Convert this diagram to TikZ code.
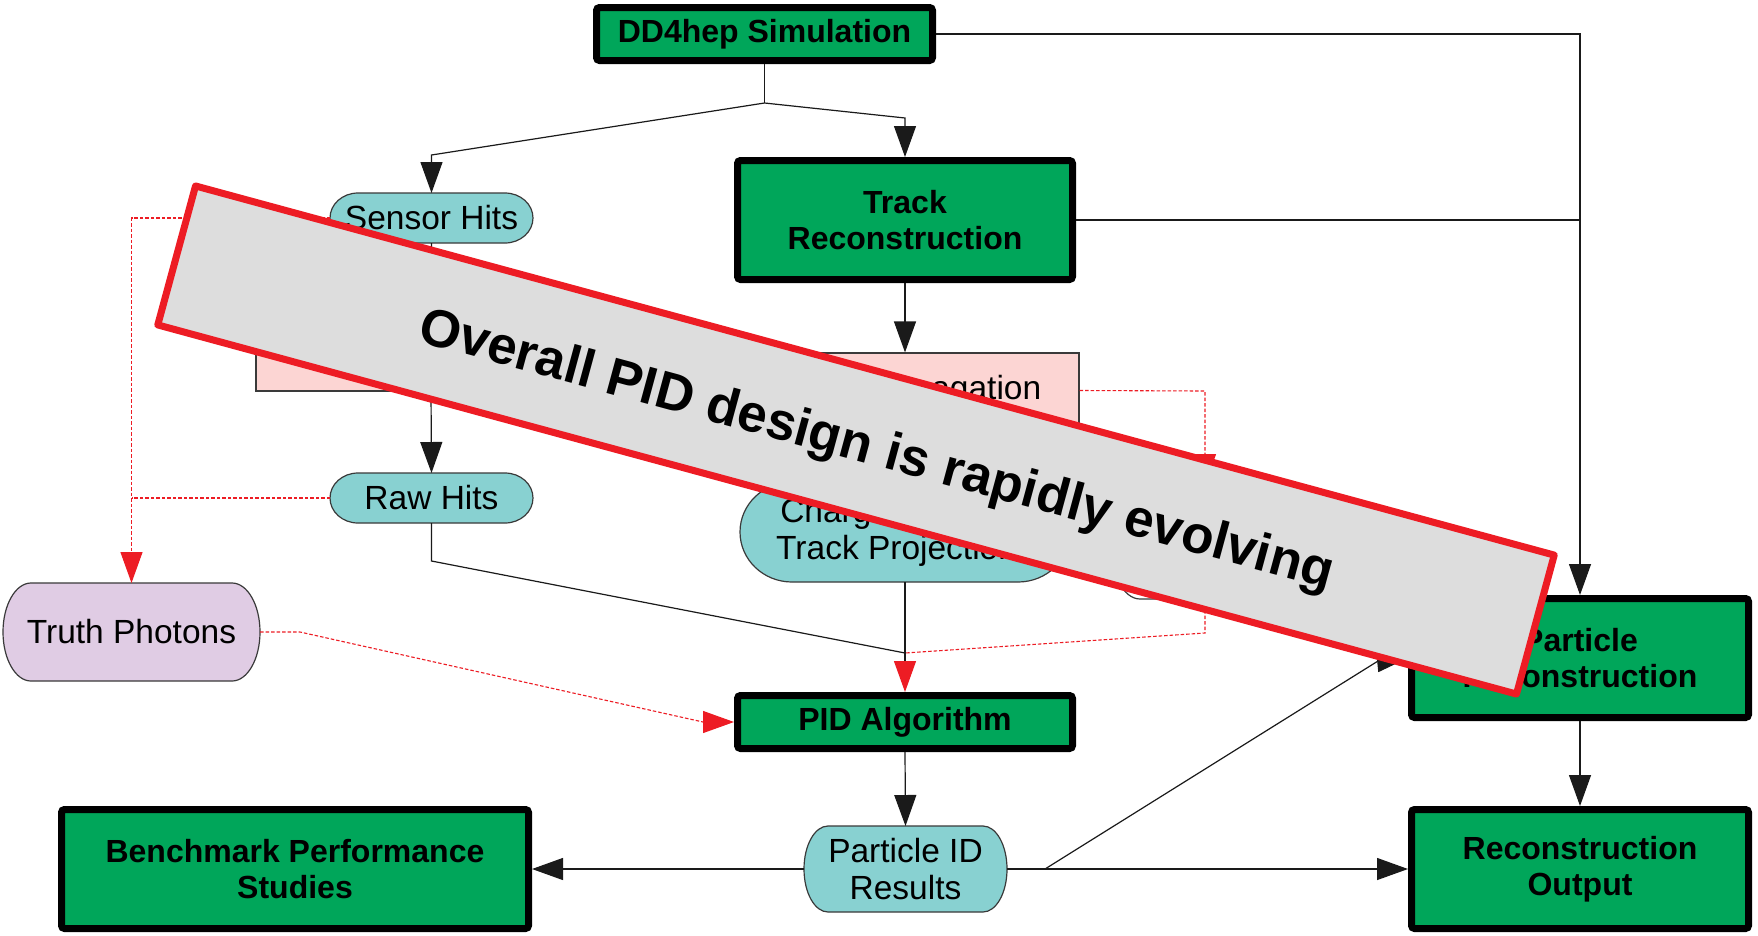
\documentclass[tikz,border=0pt]{standalone}
\usepackage{fontspec}
\setmainfont{Liberation Sans}
\usetikzlibrary{arrows.meta}

\definecolor{boxgreen}{HTML}{00A65A}
\definecolor{hitteal}{HTML}{88D1D1}
\definecolor{stagepink}{HTML}{FCD5D3}
\definecolor{photonlilac}{HTML}{E0CCE4}
\definecolor{bannergray}{HTML}{DDDDDD}
\definecolor{alertred}{HTML}{ED1C24}
\definecolor{outline}{HTML}{3A3A3A}
\definecolor{linegray}{HTML}{1A1A1A}

% terminator outline with elliptical ends: cx, cy, half width, half height, end radius
\newcommand\pillpath[5]{%
  ({#1-#3+#5},{#2-#4}) -- ({#1+#3-#5},{#2-#4})
  arc[start angle=-90,end angle=90,x radius=#5,y radius=#4]
  -- ({#1-#3+#5},{#2+#4})
  arc[start angle=90,end angle=270,x radius=#5,y radius=#4] -- cycle}
% name, cx, cy, half width, half height, end radius, fill, text
\newcommand\pillnode[8]{%
  \draw[pillline,fill=#7] \pillpath{#2}{#3}{#4}{#5}{#6};
  \node[pilltext,minimum width=2*#4pt,minimum height=2*#5pt] (#1) at (#2,#3) {#8};}

\begin{document}
\begin{tikzpicture}[x=1pt,y=-1pt,
  stagebox/.style={draw=black,line width=7pt,fill=boxgreen,rounded corners=3pt,
    align=center,inner sep=0pt,font=\bfseries\fontsize{32}{36}\selectfont},
  databox/.style={draw=outline,line width=1.2pt,fill=stagepink,align=center,
    inner sep=0pt,font=\fontsize{33.5}{37}\selectfont},
  pillline/.style={draw=outline,line width=1.2pt},
  pilltext/.style={inner sep=0pt,outer sep=0pt,align=center,font=\fontsize{33.5}{37}\selectfont},
  flow/.style={draw=linegray,line width=1.2pt},
  tip/.style={-{Triangle[length=31pt,width=22pt]}},
  redtip/.style={-{Triangle[length=31pt,width=22pt,color=alertred]}},
  truthflow/.style={draw=alertred,line width=1.1pt,dash pattern=on 3.5pt off 2pt},
]
\useasboundingbox (0,0) rectangle (1758,935);
\fill[white] (0,0) rectangle (1758,935);

% processing stages and data products
\node[stagebox,minimum width=336pt,minimum height=53pt] (sim) at (764.5,34) {DD4hep Simulation};
\node[stagebox,minimum width=335pt,minimum height=119pt] (track) at (905,220) {Track\\Reconstruction};
\node[databox,minimum width=348pt,minimum height=75pt] (tp) at (905,390.5) {Track Propagation};
\node[databox,minimum width=350pt,minimum height=75pt] (digi) at (431,353.5) {Digitization};
\pillnode{sensor}{431.5}{218}{101.5}{25}{28}{hitteal}{Sensor Hits}
\pillnode{raw}{431.5}{498}{101.5}{25}{28}{hitteal}{Raw Hits}
\pillnode{truth}{131.5}{632}{128.5}{49}{28}{photonlilac}{Truth Photons}
\pillnode{charged}{905}{532}{165}{50}{52}{hitteal}{Charged Particle\\Track Projections}
\pillnode{hid}{1205}{542}{95}{57}{30}{white}{}
\node[stagebox,minimum width=335pt,minimum height=53pt] (pid) at (905,722) {PID Algorithm};
\pillnode{pidres}{905.5}{869}{101.5}{43}{24}{hitteal}{Particle ID\\Results}
\node[stagebox,minimum width=467pt,minimum height=119pt] (bench) at (295,869) {Benchmark Performance\\Studies};
\node[stagebox,minimum width=337pt,minimum height=119pt] (preco) at (1580,658) {Particle\\Reconstruction};
\node[stagebox,minimum width=337pt,minimum height=119pt] (recout) at (1580,869) {Reconstruction\\Output};

% bend points
\coordinate (split) at (764.5,103);
\coordinate (sl) at (431.5,155);
\coordinate (sr) at (905,118);
\coordinate (tpb) at (300,632);
\coordinate (tpc) at (703,722);
\coordinate (rawk) at (431.5,561);
\coordinate (j) at (905,653);
\coordinate (tpk) at (1205,391);
\coordinate (tpl) at (1205,633);
\coordinate (fork) at (1045,869);
\coordinate (pk) at (1378,661);

% connectors
\draw[flow] (sim.south) -- (split);
\draw[flow,tip] (split) -- (sl) -- (sensor.north);
\draw[flow,tip] (split) -- (sr) -- (track.north);
\draw[flow,tip] (sim.east) -| (preco.north);
\draw[flow] (track.east) -- (track.east -| preco.north);
\draw[flow,tip] (track.south) -- (tp.north);
\draw[flow,tip] (sensor.south) -- (digi.north);
\draw[flow,tip] (digi.south) -- (raw.north);
\draw[truthflow,redtip] (sensor.west) -| (truth.north);
\draw[truthflow] (raw.west) -- (raw.west -| truth.north);
\draw[truthflow,redtip] (truth.east) -- (tpb) -- (tpc) -- (pid.west);
\draw[flow] (raw.south) -- (rawk) -- (j);
\draw[flow,redtip] (charged.south) -- (pid.north);
\draw[truthflow,redtip] (tp.east) -- (tpk) -- (hid.north);
\draw[truthflow] (hid.south) -- (tpl) -- (j);
\draw[flow,tip] (pid.south) -- (pidres.north);
\draw[flow,tip] (pidres.west) -- (bench.east);
\draw[flow,tip] (pidres.east) -- (recout.west);
\draw[flow,tip] (fork) -- (pk) -- (preco.west);
\draw[flow,tip] (preco.south) -- (recout.north);

% status banner across the chart
\node[draw=alertred,line width=7pt,fill=bannergray,line join=round,inner sep=0pt,
  minimum width=1408pt,minimum height=144pt,rotate=-15.2] (banner) at (856,440) {};
\node[rotate=-15.2,inner sep=0pt,font=\bfseries\fontsize{53}{60}\selectfont] (bannertext)
  at (876,452) {Overall PID design is rapidly evolving};
\end{tikzpicture}
\end{document}
